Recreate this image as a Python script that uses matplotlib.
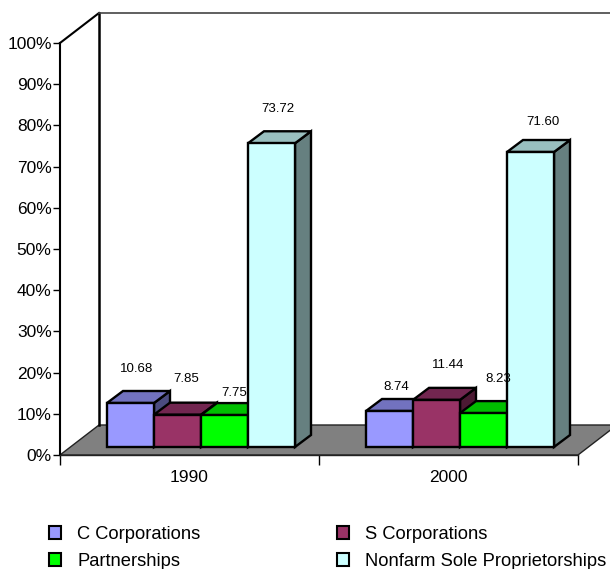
import matplotlib
matplotlib.use('Agg')
import matplotlib.pyplot as plt
from matplotlib.patches import Polygon, Patch

plt.rcParams['font.family'] = ['Liberation Sans', 'DejaVu Sans']

years = ['1990', '2000']
series = ['C Corporations', 'S Corporations', 'Partnerships', 'Nonfarm Sole Proprietorships']
c_corp = [10.68, 8.74]
s_corp = [7.85, 11.44]
partnerships = [7.75, 8.23]
sole_prop = [73.72, 71.60]
y_ticks = [0, 10, 20, 30, 40, 50, 60, 70, 80, 90, 100]

# front / top / side face of each series
faces = [('#9999ff', '#7272bf', '#4c4c80'),
         ('#993366', '#722650', '#4c1933'),
         ('#00ff00', '#00bf00', '#008000'),
         ('#ccffff', '#99bfbf', '#668080')]

# hand placed label offsets in pixels from the top front left corner of each bar
label_off = [[(30, 34), (32, 36), (33, 22), (30, 34)],
             [(30, 24), (35, 35), (38, 34), (36, 30)]]

fig = plt.figure(figsize=(6.1, 5.69), dpi=100)
ax = fig.add_axes([60 / 610, (569 - 455) / 569, 518 / 610, 412 / 569])
ax.set_xlim(0, 2)
ax.set_ylim(0, 100)
ax.patch.set_visible(False)

# size of one pixel in data units
px = 2 / 518
py = 100 / 412
wall_dx, wall_dy = 39 * px, 30 * py
bar_dx, bar_dy = 16 * px, 12 * py
base = 8 * py
bar_w = 47 / 259


def poly(pts, fc, ec='black', lw=1.7, z=2):
    ax.add_patch(Polygon(pts, closed=True, facecolor=fc, edgecolor=ec, linewidth=lw,
                         joinstyle='miter', clip_on=False, zorder=z))


# floor and walls
poly([(0, 0), (wall_dx, wall_dy), (2 + wall_dx, wall_dy), (2, 0)], '#808080', ec='#222222', lw=1, z=1)
ax.plot([0, wall_dx], [100, 100 + wall_dy], color='black', lw=1.5, clip_on=False, zorder=1)
ax.plot([wall_dx, wall_dx], [wall_dy, 100 + wall_dy], color='black', lw=1.8, clip_on=False, zorder=1)
ax.plot([wall_dx, 2 + wall_dx], [100 + wall_dy, 100 + wall_dy], color='#444444', lw=1.2, clip_on=False, zorder=1)

values = [c_corp, s_corp, partnerships, sole_prop]
for i in range(len(years)):
    for k in range(len(series)):
        v = values[k][i]
        x0 = i + bar_w + k * bar_w
        x1 = x0 + bar_w
        top = base + v
        front, upper, side = faces[k]
        poly([(x1, base), (x1 + bar_dx, base + bar_dy), (x1 + bar_dx, top + bar_dy), (x1, top)], side)
        poly([(x0, top), (x0 + bar_dx, top + bar_dy), (x1 + bar_dx, top + bar_dy), (x1, top)], upper)
        poly([(x0, base), (x0, top), (x1, top), (x1, base)], front)
        off = label_off[i][k]
        ax.annotate('%.2f' % v, (x0, top), xytext=off, textcoords='offset pixels',
                    ha='center', va='center', fontsize=9.5, color='black', zorder=5,
                    annotation_clip=False)

for s in ['top', 'right']:
    ax.spines[s].set_visible(False)
ax.spines['left'].set_linewidth(1.5)
ax.spines['bottom'].set_linewidth(1)
ax.spines['bottom'].set_color('#222222')

ax.set_yticks(y_ticks)
ax.set_yticklabels(['%d%%' % t for t in y_ticks], fontsize=12.5)
ax.tick_params(axis='y', length=5, width=1, pad=1)
ax.set_xticks([0, 1, 2])
ax.set_xticklabels([])
ax.tick_params(axis='x', length=7, width=1)
ax.set_xticks([0.5, 1.5], minor=True)
ax.set_xticklabels(years, minor=True, fontsize=12.5)
ax.tick_params(axis='x', which='minor', length=0, pad=11)

# column-first fill gives C / Partnerships then S / Nonfarm
order = [0, 2, 1, 3]
handles = [Patch(facecolor=faces[k][0], edgecolor='black', linewidth=1.5) for k in order]
labels = [series[k] for k in order]
fig.legend(handles, labels, ncol=2, frameon=False, fontsize=13.2, loc='lower left',
           bbox_to_anchor=(49 / 610, -1 / 569), borderaxespad=0, borderpad=0,
           handlelength=0.66, handleheight=0.66, handletextpad=0.87,
           columnspacing=7.45, labelspacing=0.55)

fig.savefig('out.png', dpi=100)
